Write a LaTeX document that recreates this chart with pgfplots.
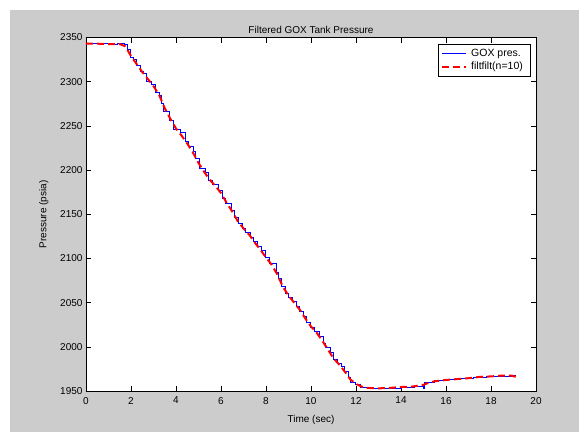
\documentclass[border=0pt]{standalone}
\usepackage{pgfplots}
\pgfplotsset{compat=1.18}
\usepackage{fontspec}
\setmainfont{Liberation Sans}
\definecolor{figgray}{RGB}{204,204,204}
\begin{document}
\fontsize{10}{12}\selectfont
\begin{tikzpicture}[x=1pt,y=1pt]
% figure background (picture is 579 x 432 units, origin bottom left)
\fill[white] (0,0) rectangle (579,432);
\fill[figgray] (10,0) rectangle (579,422);
\begin{axis}[
    at={(86pt,41pt)}, anchor=south west,
    width=450pt, height=353.5pt, scale only axis,
    xmin=0, xmax=20, ymin=1950, ymax=2350,
    xtick distance=2, ytick distance=50,
    tick align=inside, major tick length=5pt,
    axis line style={line width=0.6pt},
    every tick/.style={black, line width=0.6pt},
    axis background/.style={fill=white},
    /pgf/number format/assume math mode=true,
    /pgf/number format/1000 sep={},
    ticklabel style={font=\fontsize{10}{12}\selectfont},
    xticklabel style={yshift=-2.5pt},
    title={Filtered GOX Tank Pressure},
    title style={font=\fontsize{10}{12}\selectfont, yshift=-5.5pt},
    xlabel={Time (sec)}, ylabel={Pressure (psia)},
    label style={font=\fontsize{10}{12}\selectfont},
    xlabel style={yshift=-4pt},
    ylabel style={yshift=5pt},
    legend style={at={(0.987,0.983)}, anchor=north east, draw=black,
        fill=white, font=\fontsize{10.5}{12}\selectfont,
        inner xsep=3pt, inner ysep=3pt,
        line width=0.6pt, row sep=0.5pt,
        nodes={inner xsep=4pt}},
    legend image code/.code={\draw[#1] (0pt,0pt) -- (24pt,0pt);},
    legend cell align=left,
]
\addplot[blue, line width=0.7pt, const plot] coordinates {
(0,2343.5) (0.5,2343) (1.0,2342.5) (1.4,2343) (1.7,2342) (1.85,2337)
(1.95,2328) (2.1,2325) (2.25,2318) (2.4,2312) (2.55,2309) (2.7,2300)
(2.9,2297) (3.1,2288) (3.25,2285) (3.35,2276) (3.45,2266) (3.7,2256)
(3.9,2246) (4.2,2243) (4.4,2232) (4.55,2227) (4.75,2221) (4.85,2213)
(5.05,2202) (5.3,2197) (5.45,2188) (5.6,2184) (5.9,2177) (6.05,2168)
(6.2,2162) (6.45,2154) (6.6,2147) (6.75,2140) (6.95,2134) (7.1,2130)
(7.3,2124) (7.45,2119) (7.6,2114) (7.8,2109) (7.95,2101) (8.15,2094)
(8.45,2084) (8.55,2077) (8.7,2068) (8.85,2060) (9.0,2056) (9.15,2052)
(9.35,2046) (9.5,2040) (9.65,2035) (9.8,2028) (9.95,2022) (10.15,2018)
(10.35,2012) (10.55,2004) (10.65,1999) (10.85,1994) (11.0,1986) (11.15,1981)
(11.35,1978) (11.5,1972) (11.65,1966) (11.75,1960) (11.95,1957) (12.2,1954)
(12.5,1953) (13.0,1953) (13.5,1953.5) (14.0,1954.5) (14.6,1955.5) (14.9,1955)
(15.0,1953.5) (15.05,1960) (15.5,1961.5) (16.0,1963) (16.6,1964) (17.2,1965.5)
(17.8,1966.5) (18.3,1967) (18.9,1967.5) (19.1,1967.5)
};
\addlegendentry{GOX pres.}
\addplot[red, line width=2pt, dash pattern=on 7pt off 4pt] coordinates {
(0,2343) (0.5,2343) (1.0,2342.5) (1.5,2342.5) (1.75,2340) (2.0,2329)
(2.25,2320) (2.5,2311) (2.75,2303) (3.0,2295) (3.25,2285) (3.5,2270)
(3.75,2258) (4.0,2247) (4.25,2239) (4.5,2230) (4.75,2220) (5.0,2208)
(5.25,2198) (5.5,2189) (5.75,2182) (6.0,2174) (6.25,2163) (6.5,2153)
(6.75,2142) (7.0,2134) (7.25,2127) (7.5,2118) (7.75,2110) (8.0,2101)
(8.25,2093) (8.5,2082) (8.75,2068) (9.0,2058) (9.25,2050) (9.5,2042)
(9.75,2032) (10.0,2023) (10.25,2016) (10.5,2007) (10.75,1997) (11.0,1987)
(11.25,1980) (11.5,1972) (11.75,1963) (12.0,1958) (12.25,1955) (12.5,1953.5)
(13.0,1953) (13.5,1953.5) (14.0,1954.5) (14.5,1955) (15.0,1957) (15.25,1959.5)
(15.5,1961) (16.0,1962.5) (16.5,1963.5) (17.0,1964.5) (17.5,1966) (18.0,1966.5)
(18.5,1967.5) (18.9,1967.5) (19.1,1966)
};
\addlegendentry{filtfilt(n=10)}
\end{axis}
\end{tikzpicture}
\end{document}
